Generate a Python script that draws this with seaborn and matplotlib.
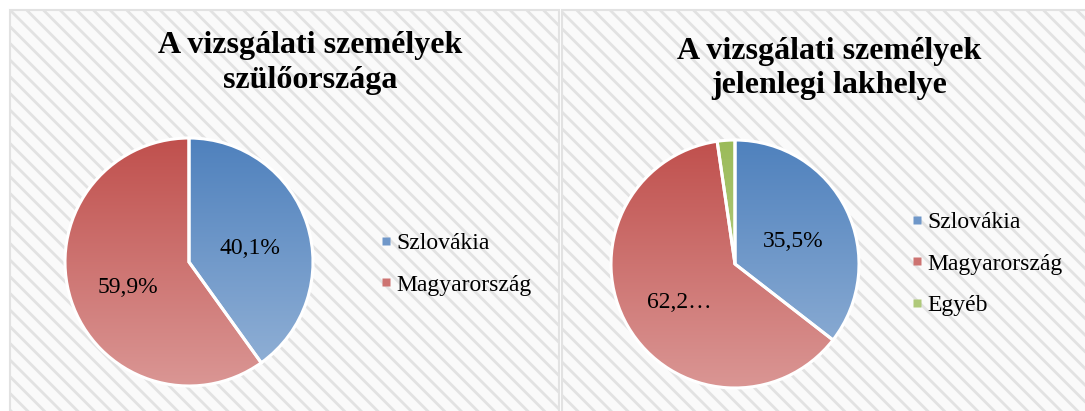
import numpy as np
import matplotlib
matplotlib.use("Agg")
import matplotlib.pyplot as plt
from matplotlib.patches import Rectangle
from matplotlib.lines import Line2D
from matplotlib.colors import to_rgb
import seaborn as sns

# data
categories_left = ['Szlovákia', 'Magyarország']
values_left = [40.1, 59.9]
pct_labels_left = ['40,1%', '59,9%']

categories_right = ['Szlovákia', 'Magyarország', 'Egyéb']
values_right = [35.5, 62.2, 2.3]
pct_labels_right = ['35,5%', '62,2…', '']

title_left = ['A vizsgálati személyek', 'szülőországa']
title_right = ['A vizsgálati személyek', 'jelenlegi lakhelye']

# gradient colours (top, bottom) per category
grad_colors = [('#4F81BD', '#95B3D7'), ('#C0504D', '#DA9694'), ('#9BBB59', '#C3D69B')]
legend_colors = ['#6F97C9', '#CD7371', '#AFC97A']

sns.set_theme(style='white')
plt.rcParams['font.family'] = ['Liberation Serif', 'DejaVu Serif']
plt.rcParams['text.color'] = 'black'
plt.rcParams['hatch.linewidth'] = 2.0

W, H = 1085, 411
fig = plt.figure(figsize=(W / 100, H / 100), dpi=100)
fig.patch.set_facecolor('white')


def px(x, y):
    return x / W, 1 - y / H


# hatched panel backgrounds
for x0, x1 in [(10, 559), (562, 1100)]:
    fig.patches.append(Rectangle((x0 / W, -0.05), (x1 - x0) / W, (H - 10) / H + 0.05,
                                 transform=fig.transFigure, facecolor='#FAFAFA',
                                 edgecolor='#E2E2E2', hatch='\\\\', linewidth=1.5, zorder=-10))


def draw_pie(cx, cy, r, values, pct_labels):
    pad = 1.05
    s = r * pad
    ax = fig.add_axes([(cx - s) / W, (H - cy - s) / H, 2 * s / W, 2 * s / H])
    wedges, _ = ax.pie(values, startangle=90, counterclock=False, radius=1,
                       wedgeprops=dict(facecolor='none', edgecolor='white', linewidth=2.2))
    for w, (top, bot) in zip(wedges, grad_colors):
        t = np.linspace(0, 1, 256)[:, None, None]
        img = (1 - t) * np.array(to_rgb(top)) + t * np.array(to_rgb(bot))
        im = ax.imshow(img, extent=(-1, 1, -1, 1), origin='upper', aspect='auto',
                       interpolation='bilinear', zorder=1)
        im.set_clip_path(w)
        w.set_zorder(3)
    # percentage labels
    ang = 90.0
    for v, lab in zip(values, pct_labels):
        mid = np.deg2rad(ang - v * 3.6 / 2)
        ang -= v * 3.6
        if lab:
            ax.text(0.52 * np.cos(mid), 0.52 * np.sin(mid) - 0.05, lab, ha='center',
                    va='center', fontsize=17, color='black', zorder=4)
    ax.set_xlim(-pad, pad)
    ax.set_ylim(-pad, pad)
    ax.axis('off')
    return ax


draw_pie(189, 262, 124, values_left, pct_labels_left)
draw_pie(735, 264, 124, values_right, pct_labels_right)

# titles
for lines, cx, ys in [(title_left, 310, (53, 88)), (title_right, 829, (59, 93))]:
    for line, y in zip(lines, ys):
        fig.text(*px(cx, y), line, ha='center', va='baseline', fontsize=23,
                 fontweight='bold', color='black')


def add_legend(cats, x, y):
    handles = [Line2D([], [], marker='s', linestyle='none', markersize=5.5,
                      markerfacecolor=c, markeredgecolor='none')
               for c in legend_colors[:len(cats)]]
    leg = fig.legend(handles, cats, loc='center left', bbox_to_anchor=px(x, y), frameon=False,
                     fontsize=17, handlelength=0.4, handletextpad=0.25, labelspacing=0.85,
                     borderpad=0, borderaxespad=0)
    for t in leg.get_texts():
        t.set_color('black')


add_legend(categories_left, 381, 264)
add_legend(categories_right, 912, 264)

fig.savefig('out.png', dpi=100)
